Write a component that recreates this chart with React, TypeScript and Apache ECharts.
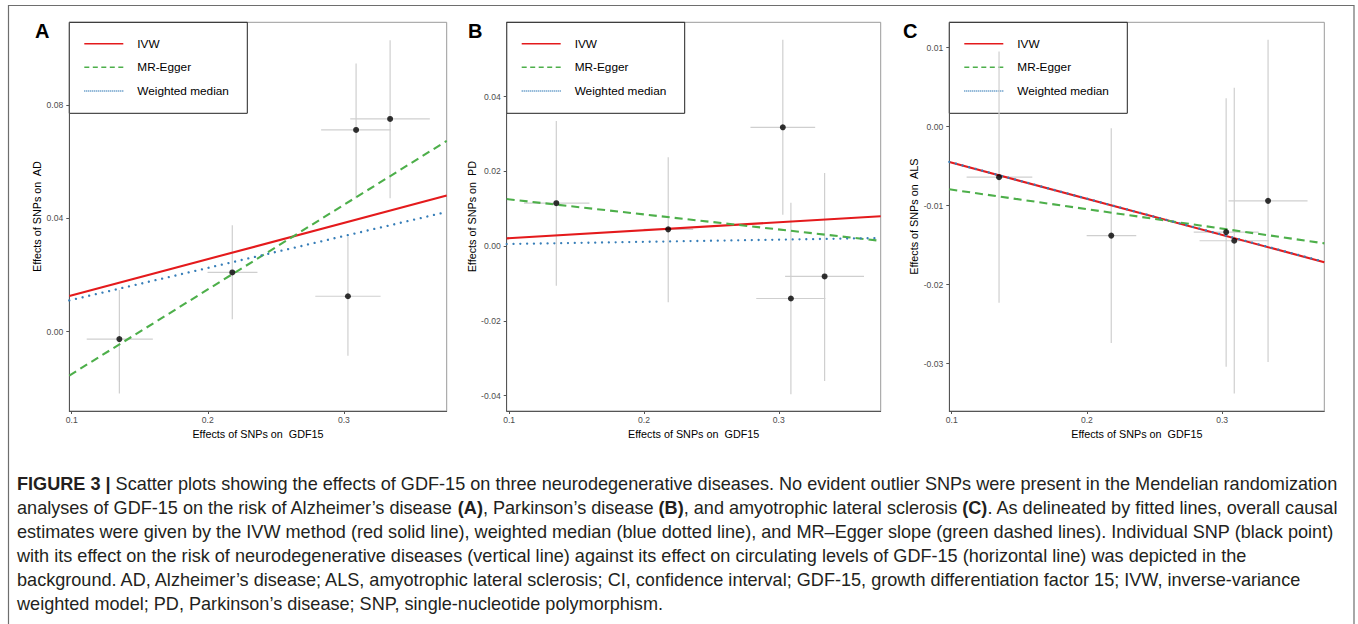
import React, { useEffect, useRef } from "react";
import * as echarts from "echarts";

// ---------- data ----------
const panelLetters = ["A", "B", "C"];
const outcomeNames = ["AD", "PD", "ALS"];
const methodNames = ["IVW", "MR-Egger", "Weighted median"];

// SNP effects on GDF15 (shared by all panels) with 95% CI
const snpX = [0.135, 0.218, 0.303, 0.309, 0.334];
const snpXLo = [0.111, 0.1998, 0.279, 0.2833, 0.3047];
const snpXHi = [0.1596, 0.2365, 0.327, 0.3346, 0.3632];

// SNP effects on AD
const adBeta = [-0.0026, 0.0209, 0.0125, 0.0712, 0.0751];
const adLo = [-0.0218, 0.0044, -0.0085, 0.0471, 0.0471];
const adHi = [0.0147, 0.0376, 0.0335, 0.0947, 0.1029];

// SNP effects on PD
const pdBeta = [0.0115, 0.0045, 0.0318, -0.014, -0.0081];
const pdLo = [-0.0106, -0.015, 0.0084, -0.0396, -0.0361];
const pdHi = [0.0335, 0.0238, 0.0552, 0.0116, 0.0196];

// SNP effects on ALS
const alsBeta = [-0.0064, -0.0138, -0.01335, -0.01445, -0.0094];
const alsLo = [-0.0223, -0.0274, -0.0304, -0.0338, -0.0298];
const alsHi = [0.0095, -0.0002, 0.0036, 0.0049, 0.011];

// fitted lines per method (IVW, MR-Egger, Weighted median)
const adSlopes = [0.128, 0.2985, 0.1125];
const adIntercepts = [0, -0.0448, 0];
const pdSlopes = [0.0213, -0.0403, 0.0058];
const pdIntercepts = [0, 0.01656, 0];
const alsSlopes = [-0.0457, -0.02465, -0.0456];
const alsIntercepts = [0, -0.00552, 0];

// axis ranges and tick labels
const xRange = [0.0982, 0.3756];
const xTicks = [0.1, 0.2, 0.3];
const adRange = [-0.028, 0.1092];
const pdRange = [-0.0441, 0.0599];
const alsRange = [-0.036, 0.0132];
const adTicks = [0, 0.04, 0.08];
const pdTicks = [-0.04, -0.02, 0, 0.02, 0.04];
const alsTicks = [-0.03, -0.02, -0.01, 0, 0.01];
const adTickLabels = ["0.00", "0.04", "0.08"];
const pdTickLabels = ["-0.04", "-0.02", "0.00", "0.02", "0.04"];
const alsTickLabels = ["-0.03", "-0.02", "-0.01", "0.00", "0.01"];

const captionLines = [
  "{b|FIGURE 3 |} Scatter plots showing the effects of GDF-15 on three neurodegenerative diseases. No evident outlier SNPs were present in the Mendelian randomization",
  "analyses of GDF-15 on the risk of Alzheimer\u2019s disease {b|(A)}, Parkinson\u2019s disease {b|(B)}, and amyotrophic lateral sclerosis {b|(C)}. As delineated by fitted lines, overall causal",
  "estimates were given by the IVW method (red solid line), weighted median (blue dotted line), and MR\u2013Egger slope (green dashed lines). Individual SNP (black point)",
  "with its effect on the risk of neurodegenerative diseases (vertical line) against its effect on circulating levels of GDF-15 (horizontal line) was depicted in the",
  "background. AD, Alzheimer\u2019s disease; ALS, amyotrophic lateral sclerosis; CI, confidence interval; GDF-15, growth differentiation factor 15; IVW, inverse-variance",
  "weighted model; PD, Parkinson\u2019s disease; SNP, single-nucleotide polymorphism.",
];

// ---------- layout / style ----------
const FONT = "'Liberation Sans', Arial, Helvetica, sans-serif";
const methodColors = ["#e41a1c", "#4daf4a", "#377eb8"];
const methodDash: any[] = ["solid", [8, 5], [0.01, 6.8]];
const legendDash: any[] = ["solid", [5, 3.5], [1, 1]];

const panels = [
  { left: 69.3, width: 377.4, beta: adBeta, lo: adLo, hi: adHi, slopes: adSlopes, ints: adIntercepts, range: adRange, ticks: adTicks, tickLabels: adTickLabels, nameGap: 23.5, letterX: 35 },
  { left: 506.7, width: 374, beta: pdBeta, lo: pdLo, hi: pdHi, slopes: pdSlopes, ints: pdIntercepts, range: pdRange, ticks: pdTicks, tickLabels: pdTickLabels, nameGap: 29, letterX: 468 },
  { left: 949.3, width: 375, beta: alsBeta, lo: alsLo, hi: alsHi, slopes: alsSlopes, ints: alsIntercepts, range: alsRange, ticks: alsTicks, tickLabels: alsTickLabels, nameGap: 28, letterX: 903 },
];
const GRID_TOP = 22.3;
const GRID_H = 388.7;

function fmt(v: number, ticks: number[], labels: string[]) {
  for (let i = 0; i < ticks.length; i++) if (Math.abs(ticks[i] - v) < 1e-9) return labels[i];
  return "";
}

export default function App() {
  const ref = useRef<HTMLDivElement>(null);
  useEffect(() => {
    if (!ref.current) return;
    const chart = echarts.init(ref.current, undefined, { renderer: "svg" });

    const grid: any[] = [];
    const xAxis: any[] = [];
    const yAxis: any[] = [];
    const series: any[] = [];
    const graphic: any[] = [];

    graphic.push({
      type: "rect",
      shape: { x: 8.5, y: 5.5, width: 1345.5, height: 640 },
      style: { fill: "none", stroke: "#6e6e6e", lineWidth: 1.2 },
      silent: true,
      z: 0,
    });

    panels.forEach((p, i) => {
      grid.push({
        left: p.left,
        top: GRID_TOP,
        width: p.width,
        height: GRID_H,
        show: true,
        borderColor: "#9a9a9a",
        borderWidth: 1,
        backgroundColor: "transparent",
      });
      xAxis.push({
        type: "value",
        gridIndex: i,
        min: xRange[0],
        max: xRange[1],
        name: "Effects of SNPs on  GDF15",
        nameLocation: "middle",
        nameGap: 15,
        nameTextStyle: { fontFamily: FONT, fontSize: 10.8, color: "#000", verticalAlign: "top" },
        axisLine: { show: true, onZero: false, lineStyle: { color: "#555", width: 1 } },
        axisTick: { show: true, length: 3, lineStyle: { color: "#555" }, customValues: xTicks },
        axisLabel: {
          fontFamily: FONT,
          fontSize: 8.6,
          color: "#4d4d4d",
          margin: 4,
          customValues: xTicks,
          formatter: (v: number) => String(Math.round(v * 10) / 10),
        },
        splitLine: { show: false },
      });
      yAxis.push({
        type: "value",
        gridIndex: i,
        min: p.range[0],
        max: p.range[1],
        name: "Effects of SNPs on  " + outcomeNames[i],
        nameLocation: "middle",
        nameGap: p.nameGap,
        nameRotate: 90,
        nameTextStyle: { fontFamily: FONT, fontSize: 10.8, color: "#000" },
        axisLine: { show: true, onZero: false, lineStyle: { color: "#555", width: 1 } },
        axisTick: { show: true, length: 3, lineStyle: { color: "#555" }, customValues: p.ticks },
        axisLabel: {
          fontFamily: FONT,
          fontSize: 8.6,
          color: "#4d4d4d",
          margin: 6,
          customValues: p.ticks,
          formatter: (v: number) => fmt(v, p.ticks, p.tickLabels),
        },
        splitLine: { show: false },
      });

      // error bars
      series.push({
        type: "custom",
        xAxisIndex: i,
        yAxisIndex: i,
        silent: true,
        z: 1,
        encode: { x: [0, 2, 3], y: [1, 4, 5] },
        data: snpX.map((x, k) => [x, p.beta[k], snpXLo[k], snpXHi[k], p.lo[k], p.hi[k]]),
        renderItem: (params: any, api: any) => {
          const x = api.value(0), y = api.value(1);
          const a = api.coord([api.value(2), y]);
          const b = api.coord([api.value(3), y]);
          const c = api.coord([x, api.value(4)]);
          const d = api.coord([x, api.value(5)]);
          const st = { stroke: "#cfcfcf", lineWidth: 1.2 };
          return {
            type: "group",
            children: [
              { type: "line", shape: { x1: a[0], y1: a[1], x2: b[0], y2: b[1] }, style: st },
              { type: "line", shape: { x1: c[0], y1: c[1], x2: d[0], y2: d[1] }, style: st },
            ],
          };
        },
      });

      // fitted lines
      methodNames.forEach((m, j) => {
        series.push({
          type: "line",
          name: m,
          xAxisIndex: i,
          yAxisIndex: i,
          showSymbol: false,
          symbol: "none",
          silent: true,
          z: 2 + j,
          lineStyle: {
            color: methodColors[j],
            width: j === 2 ? 2.3 : 2.1,
            type: methodDash[j],
            cap: j === 2 ? "round" : "butt",
          },
          data: [
            [xRange[0], p.ints[j] + p.slopes[j] * xRange[0]],
            [xRange[1], p.ints[j] + p.slopes[j] * xRange[1]],
          ],
        });
      });

      // points
      series.push({
        type: "scatter",
        xAxisIndex: i,
        yAxisIndex: i,
        symbolSize: 6,
        itemStyle: { color: "#000" },
        z: 6,
        data: snpX.map((x, k) => [x, p.beta[k]]),
      });

      // legend (drawn)
      const rowsY = [21.4, 45, 68.7];
      const children: any[] = [
        { type: "rect", shape: { x: 0, y: 0, width: 178, height: 91 }, style: { fill: "none", stroke: "#222", lineWidth: 1 } },
      ];
      methodNames.forEach((m, j) => {
        children.push({
          type: "line",
          shape: { x1: 15, y1: rowsY[j], x2: 54, y2: rowsY[j] },
          style: {
            stroke: methodColors[j],
            lineWidth: j === 2 ? 1.3 : 1.4,
            lineDash: legendDash[j] === "solid" ? null : legendDash[j],
          },
        });
        children.push({
          type: "text",
          x: 68,
          y: rowsY[j],
          style: { text: m, fontFamily: FONT, fontSize: 11.8, fill: "#000", verticalAlign: "middle", align: "left" },
        });
      });
      graphic.push({ type: "group", x: p.left, y: GRID_TOP, z: 10, children });

      graphic.push({
        type: "text",
        x: p.letterX,
        y: 31,
        z: 10,
        style: { text: panelLetters[i], fontFamily: FONT, fontSize: 20, fontWeight: "bold", fill: "#000", verticalAlign: "middle", align: "left" },
      });
    });

    captionLines.forEach((line, k) => {
      graphic.push({
        type: "text",
        x: 17,
        y: 483.5 + 24 * k,
        z: 10,
        style: {
          text: line,
          fontFamily: FONT,
          fontSize: 18.1,
          fill: "#231f20",
          verticalAlign: "middle",
          align: "left",
          rich: { b: { fontFamily: FONT, fontSize: 18.1, fontWeight: "bold", fill: "#231f20" } },
        },
      });
    });

    chart.setOption({
      animation: false,
      backgroundColor: "#fff",
      grid,
      xAxis,
      yAxis,
      series,
      graphic,
    });
    return () => chart.dispose();
  }, []);
  return <div ref={ref} style={{ position: "absolute", left: 0, top: 0, width: 1358, height: 624 }} />;
}
